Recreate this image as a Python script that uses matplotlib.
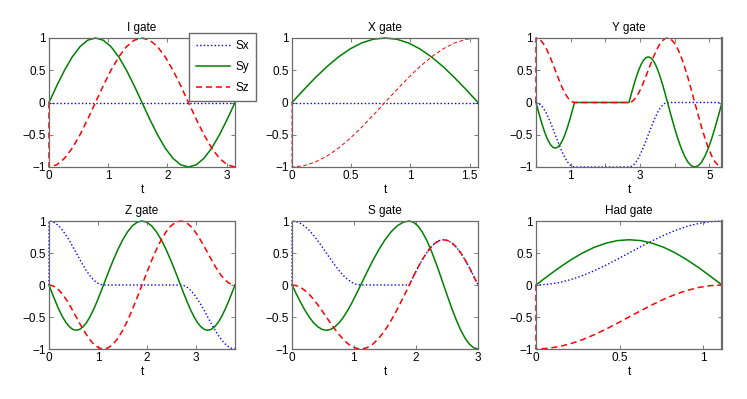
import matplotlib
matplotlib.use("Agg")
import matplotlib.pyplot as plt

plt.rcParams['font.family'] = ['Liberation Sans', 'DejaVu Sans']
plt.rcParams['font.size'] = 8.5

# I gate
t_i = [0, 0, .131, .262, .393, .524, .654, .785, .916, 1.047, 1.178, 1.309, 1.440, 1.571,
       1.702, 1.833, 1.963, 2.094, 2.225, 2.356, 2.487, 2.618, 2.749, 2.880, 3.011, 3.142]
sx_i = [0, 0, 0, 0, 0, 0, 0, 0, 0, 0, 0, 0, 0, 0, 0, 0, 0, 0, 0, 0, 0, 0, 0, 0, 0, 0]
sy_i = [0, 0, .259, .5, .707, .866, .966, 1, .966, .866, .707, .5, .259, 0,
        -.259, -.5, -.707, -.866, -.966, -1, -.966, -.866, -.707, -.5, -.259, 0]
sz_i = [0, -1, -.966, -.866, -.707, -.5, -.259, 0, .259, .5, .707, .866, .966, 1,
        .966, .866, .707, .5, .259, 0, -.259, -.5, -.707, -.866, -.966, -1]

# X gate
t_x = [0, 0, .098, .196, .295, .393, .491, .589, .687, .785, .884, .982, 1.080, 1.178,
       1.276, 1.374, 1.473, 1.571]
sx_x = [0, 0, 0, 0, 0, 0, 0, 0, 0, 0, 0, 0, 0, 0, 0, 0, 0, 0]
sy_x = [0, 0, .195, .383, .556, .707, .831, .924, .981, 1, .981, .924, .831, .707,
        .556, .383, .195, 0]
sz_x = [0, -1, -.981, -.924, -.831, -.707, -.556, -.383, -.195, 0, .195, .383, .556,
        .707, .831, .924, .981, 1]

# Y gate
t_y = [0,
       0, .069, .139, .208, .278, .347, .417, .486, .555, .625, .694, .764, .833,
       .902, .972, 1.041, 1.111,
       2.682,
       2.751, 2.821, 2.890, 2.960, 3.029, 3.098, 3.168, 3.237, 3.307, 3.376, 3.446,
       3.515, 3.584, 3.654, 3.723, 3.793,
       3.891, 3.989, 4.088, 4.186, 4.284, 4.382, 4.480, 4.578, 4.677, 4.775, 4.873,
       4.971, 5.069, 5.167, 5.266, 5.364]
sx_y = [0,
        0, -.010, -.038, -.085, -.146, -.222, -.309, -.403, -.5, -.598, -.691, -.778,
        -.854, -.916, -.962, -.990, -1,
        -1,
        -.990, -.962, -.916, -.854, -.778, -.691, -.598, -.5, -.403, -.309, -.222,
        -.146, -.085, -.038, -.010, 0,
        0, 0, 0, 0, 0, 0, 0, 0, 0, 0, 0, 0, 0, 0, 0, 0]
sy_y = [0,
        0, -.138, -.271, -.393, -.5, -.588, -.653, -.694, -.707, -.694, -.653, -.588,
        -.5, -.393, -.271, -.138, 0,
        0,
        .138, .271, .393, .5, .588, .653, .694, .707, .694, .653, .588, .5, .393,
        .271, .138, 0,
        -.195, -.383, -.556, -.707, -.831, -.924, -.981, -1, -.981, -.924, -.831,
        -.707, -.556, -.383, -.195, 0]
sz_y = [0,
        1, .990, .962, .916, .854, .778, .691, .598, .5, .403, .309, .222, .146, .085,
        .038, .010, 0,
        0,
        .010, .038, .085, .146, .222, .309, .403, .5, .598, .691, .778, .854, .916,
        .962, .990, 1,
        .981, .924, .831, .707, .556, .383, .195, 0, -.195, -.383, -.556, -.707,
        -.831, -.924, -.981, -1]

# Z gate
t_z = [0,
       0, .069, .139, .208, .278, .347, .417, .486, .555, .625, .694, .764, .833,
       .902, .972, 1.041, 1.111,
       1.209, 1.307, 1.406, 1.504, 1.602, 1.700, 1.798, 1.896, 1.995, 2.093, 2.191,
       2.289, 2.387, 2.485, 2.584, 2.682,
       2.751, 2.821, 2.890, 2.960, 3.029, 3.098, 3.168, 3.237, 3.307, 3.376, 3.446,
       3.515, 3.584, 3.654, 3.723, 3.793]
sx_z = [0,
        1, .990, .962, .916, .854, .778, .691, .598, .5, .403, .309, .222, .146, .085,
        .038, .010, 0,
        0, 0, 0, 0, 0, 0, 0, 0, 0, 0, 0, 0, 0, 0, 0, 0,
        -.010, -.038, -.085, -.146, -.222, -.309, -.403, -.5, -.598, -.691, -.778,
        -.854, -.916, -.962, -.990, -1]
sy_z = [0,
        0, -.138, -.271, -.393, -.5, -.588, -.653, -.694, -.707, -.694, -.653, -.588,
        -.5, -.393, -.271, -.138, 0,
        .195, .383, .556, .707, .831, .924, .981, 1, .981, .924, .831, .707, .556,
        .383, .195, 0,
        -.138, -.271, -.393, -.5, -.588, -.653, -.694, -.707, -.694, -.653, -.588,
        -.5, -.393, -.271, -.138, 0]
sz_z = [0,
        0, -.010, -.038, -.085, -.146, -.222, -.309, -.403, -.5, -.598, -.691, -.778,
        -.854, -.916, -.962, -.990, -1,
        -.981, -.924, -.831, -.707, -.556, -.383, -.195, 0, .195, .383, .556, .707,
        .831, .924, .981, 1,
        .990, .962, .916, .854, .778, .691, .598, .5, .403, .309, .222, .146, .085,
        .038, .010, 0]

# S gate
t_s = [0,
       0, .069, .139, .208, .278, .347, .417, .486, .555, .625, .694, .764, .833,
       .902, .972, 1.041, 1.111,
       1.209, 1.307, 1.406, 1.504, 1.602, 1.700, 1.798, 1.896,
       1.965, 2.035, 2.104, 2.174, 2.243, 2.312, 2.382, 2.451, 2.521, 2.590, 2.660,
       2.729, 2.798, 2.868, 2.937, 3.007]
sx_s = [0,
        1, .990, .962, .916, .854, .778, .691, .598, .5, .403, .309, .222, .146, .085,
        .038, .010, 0,
        0, 0, 0, 0, 0, 0, 0, 0,
        .138, .271, .393, .5, .588, .653, .694, .707, .694, .653, .588, .5, .393,
        .271, .138, 0]
sy_s = [0,
        0, -.138, -.271, -.393, -.5, -.588, -.653, -.694, -.707, -.694, -.653, -.588,
        -.5, -.393, -.271, -.138, 0,
        .195, .383, .556, .707, .831, .924, .981, 1,
        .981, .924, .831, .707, .556, .383, .195, 0, -.195, -.383, -.556, -.707,
        -.831, -.924, -.981, -1]
sz_s = [0,
        0, -.010, -.038, -.085, -.146, -.222, -.309, -.403, -.5, -.598, -.691, -.778,
        -.854, -.916, -.962, -.990, -1,
        -.981, -.924, -.831, -.707, -.556, -.383, -.195, 0,
        .138, .271, .393, .5, .588, .653, .694, .707, .694, .653, .588, .5, .393,
        .271, .138, 0]

# Hadamard gate
t_h = [0, 0, .069, .139, .208, .278, .347, .417, .486, .555, .625, .694, .764, .833,
       .902, .972, 1.041, 1.111]
sx_h = [0, 0, .010, .038, .085, .146, .222, .309, .403, .5, .598, .691, .778, .854,
        .916, .962, .990, 1]
sy_h = [0, 0, .138, .271, .393, .5, .588, .653, .694, .707, .694, .653, .588, .5,
        .393, .271, .138, 0]
sz_h = [0, -1, -.990, -.962, -.916, -.854, -.778, -.691, -.598, -.5, -.403, -.309,
        -.222, -.146, -.085, -.038, -.010, 0]

titles = ["I gate", "X gate", "Y gate", "Z gate", "S gate", "Had gate"]
xticks = [[0, 1, 2, 3], [0, 0.5, 1, 1.5], [1, 2, 3, 4, 5],
          [0, 1, 2, 3], [0, 1, 2, 3], [0, 0.5, 1]]
xticklabels = [["0", "1", "2", "3"], ["0", "0.5", "1", "1.5"], ["1", "", "3", "", "5"],
               ["0", "1", "2", "3"], ["0", "1", "2", "3"], ["0", "0.5", "1"]]
yticks = [-1, -0.5, 0, 0.5, 1]
yticklabels = ["\u22121", "\u22120.5", "0", "0.5", "1"]

data = [(t_i, sx_i, sy_i, sz_i), (t_x, sx_x, sy_x, sz_x), (t_y, sx_y, sy_y, sz_y),
        (t_z, sx_z, sy_z, sz_z), (t_s, sx_s, sy_s, sz_s), (t_h, sx_h, sy_h, sz_h)]

W, H = 747, 399
fig = plt.figure(figsize=(W / 100, H / 100), dpi=100)
lefts = [49, 292, 536]
rows = [(38, 167), (221, 349)]
spine_col = "#6a6a6a"

axes = []
for n in range(6):
    r, c = divmod(n, 3)
    top, bot = rows[r]
    ax = fig.add_axes([lefts[c] / W, 1 - bot / H, 186 / W, (bot - top) / H])
    t, sx, sy, sz = data[n]
    ax.plot(t, sx, color="#0000ff", linestyle=(0, (1, 1.6)), lw=1.0, label="Sx", clip_on=False)
    ax.plot(t, sy, color="#008000", linestyle="-", lw=1.1, label="Sy", clip_on=False)
    lw_z = 0.7 if n == 1 else 1.1
    ax.plot(t, sz, color="#ff0000", linestyle=(0, (4, 2.5)), lw=lw_z, label="Sz", clip_on=False)
    ax.set_xlim(t[0], t[-1])
    ax.set_ylim(-1, 1)
    ax.set_xticks(xticks[n])
    ax.set_xticklabels(xticklabels[n])
    ax.set_yticks(yticks)
    ax.set_yticklabels(yticklabels)
    ax.tick_params(direction="in", length=3, width=0.6, color=spine_col,
                   top=True, right=True, labelsize=8.5, pad=2.5)
    for sp in ax.spines.values():
        sp.set_color(spine_col)
        sp.set_linewidth(0.9)
    if c == 2:
        ax.spines["right"].set_linewidth(1.6)
    ax.set_title(titles[n], fontsize=8.5, pad=5)
    ax.set_xlabel("t", fontsize=8.5, labelpad=1)
    axes.append(ax)

leg = axes[0].legend(loc="upper left", bbox_to_anchor=(189 / W, 1 - 33 / H),
                     bbox_transform=fig.transFigure, fancybox=False, framealpha=1,
                     edgecolor=spine_col, fontsize=8.5, handlelength=2.9,
                     labelspacing=0.75, borderpad=0.6, handletextpad=0.4,
                     borderaxespad=0)
leg.get_frame().set_linewidth(1.0)

fig.savefig("out.png", dpi=100)
